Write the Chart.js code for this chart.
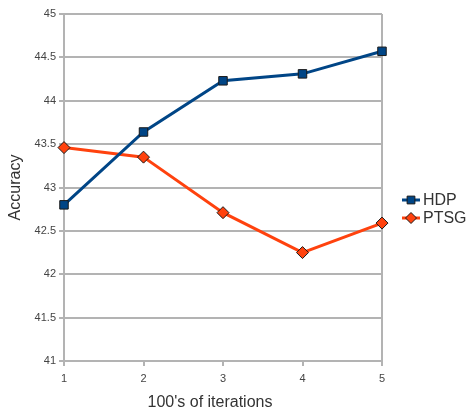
<!DOCTYPE html>
<html><head><meta charset="utf-8">
<script src="https://cdn.jsdelivr.net/npm/chart.js@4/dist/chart.umd.min.js"></script>
<style>html,body{margin:0;padding:0;background:#fff}canvas{display:block}</style>
</head><body>
<canvas id="c" width="470" height="410"></canvas>
<script>
const iterations = [1, 2, 3, 4, 5];
const hdpValues = [42.80, 43.64, 44.23, 44.31, 44.57];
const ptsgValues = [43.46, 43.35, 42.71, 42.25, 42.59];
const seriesNames = ['HDP', 'PTSG'];
const xTitle = "100's of iterations";
const yTitle = 'Accuracy';

const FONT = '"Liberation Sans", Arial, sans-serif';
const GRID = '#b3b3b3';

const legendPlugin = {
  id: 'sideLegend',
  afterDraw(chart) {
    const ctx = chart.ctx;
    const items = chart.data.datasets;
    items.forEach((ds, i) => {
      const y = 200 + i * 18;
      ctx.save();
      ctx.strokeStyle = ds.borderColor;
      ctx.lineWidth = 3;
      ctx.beginPath(); ctx.moveTo(402, y); ctx.lineTo(420, y); ctx.stroke();
      ctx.fillStyle = ds.pointBackgroundColor;
      ctx.strokeStyle = ds.pointBorderColor;
      ctx.lineWidth = 1;
      Chart.helpers.drawPoint(ctx, {pointStyle: ds.pointStyle, radius: ds.pointRadius - 0.5, rotation: 0, borderWidth: 1}, 411, y);
      ctx.fillStyle = '#333';
      ctx.font = '16px ' + FONT;
      ctx.textBaseline = 'middle';
      ctx.fillText(ds.label, 423, y + 1);
      ctx.restore();
    });
    // x axis title
    ctx.save();
    ctx.fillStyle = '#333';
    ctx.font = '16px ' + FONT;
    ctx.textAlign = 'center';
    ctx.textBaseline = 'middle';
    ctx.fillText(xTitle, 210, 403);
    ctx.restore();
  }
};

new Chart(document.getElementById('c'), {
  type: 'line',
  data: {
    labels: iterations,
    datasets: [
      {label: seriesNames[0], data: hdpValues, borderColor: '#004586', borderWidth: 3,
       pointStyle: 'rect', pointRadius: 6, pointBackgroundColor: '#004586', pointBorderColor: '#1a1a1a', pointBorderWidth: 1, tension: 0},
      {label: seriesNames[1], data: ptsgValues, borderColor: '#ff420e', borderWidth: 3,
       pointStyle: 'rectRot', pointRadius: 6, pointBackgroundColor: '#ff420e', pointBorderColor: '#1a1a1a', pointBorderWidth: 1, tension: 0}
    ]
  },
  options: {
    responsive: false,
    animation: false,
    layout: {padding: {top: 14, right: 88, left: 0, bottom: 0}},
    plugins: {legend: {display: false}, tooltip: {enabled: false}},
    scales: {
      x: {
        type: 'category',
        offset: false,
        grid: {
          color: (c) => c.index === 4 ? GRID : 'rgba(0,0,0,0)',
          tickColor: GRID, lineWidth: 2, tickLength: 5, drawOnChartArea: true
        },
        border: {color: GRID, width: 2},
        ticks: {color: '#444', font: {family: FONT, size: 11}, padding: 6, maxRotation: 0},
        title: {display: false},
        afterFit(s) { s.height = 49; }
      },
      y: {
        min: 41, max: 45,
        ticks: {stepSize: 0.5, color: '#444', font: {family: FONT, size: 11}, padding: 3,
          callback: (v) => String(v)},
        grid: {color: GRID, lineWidth: 2, tickLength: 5},
        border: {color: GRID, width: 2},
        title: {display: true, text: yTitle, color: '#333', font: {family: FONT, size: 16}, padding: {top: 6, bottom: 4}},
        afterFit(s) { s.width = 64; }
      }
    }
  },
  plugins: [legendPlugin]
});
</script>
</body></html>
